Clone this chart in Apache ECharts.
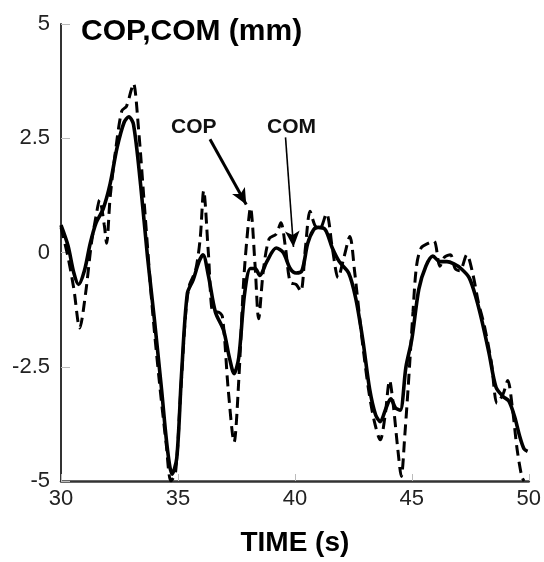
<!DOCTYPE html>
<html>
<head>
<meta charset="utf-8">
<script src="https://cdn.jsdelivr.net/npm/echarts@6/dist/echarts.min.js"></script>
<style>
  html, body { margin: 0; padding: 0; background: #fff; }
  #chart { width: 544px; height: 562px; }
</style>
</head>
<body>
<div id="chart"></div>
<script>
// time (s) and centre of mass (mm)
var comTime = [30.0, 30.3, 30.55, 30.75, 31.0, 31.25, 31.5, 31.8, 32.1, 32.4, 32.7, 32.9, 33.1, 33.4, 33.7,
    34.0, 34.3, 34.55, 34.75, 34.95, 35.15, 35.4, 35.65, 35.9, 36.07, 36.3, 36.6, 36.95, 37.2, 37.4,
    37.6, 37.85, 38.1, 38.3, 38.5, 38.8, 39.2, 39.5, 39.8, 40.05, 40.3, 40.55, 40.8, 41.0, 41.3,
    41.6, 41.9, 42.3, 42.6, 42.9, 43.2, 43.45, 43.65, 43.9, 44.1, 44.3, 44.5, 44.75, 45.0, 45.3,
    45.6, 45.9, 46.2, 46.5, 46.8, 47.1, 47.45, 47.75, 48.0, 48.3, 48.6, 48.9, 49.15, 49.4, 49.6,
    49.8, 49.95];
var comValue = [0.6, 0.15, -0.45, -0.7, -0.4, 0.2, 0.65, 0.95, 1.5, 2.3, 2.85, 2.97, 2.8, 1.5, -0.1,
    -1.5, -3.0, -4.3, -4.85, -4.5, -2.7, -0.9, -0.6, -0.2, -0.05, -0.5, -1.3, -1.7, -2.3, -2.65,
    -2.3, -0.9, -0.35, -0.35, -0.5, -0.2, 0.1, 0.0, -0.35, -0.45, -0.4, 0.2, 0.5, 0.55, 0.5,
    0.1, -0.2, -0.45, -1.0, -1.9, -3.0, -3.55, -3.7, -3.4, -3.2, -3.4, -3.45, -2.5, -1.9, -0.8,
    -0.3, -0.08, -0.2, -0.2, -0.25, -0.35, -0.55, -1.0, -1.5, -2.2, -2.95, -3.15, -3.25, -3.6, -4.0,
    -4.3, -4.35];

// time (s) and centre of pressure (mm)
var copTime = [30.0, 30.3, 30.55, 30.8, 31.05, 31.3, 31.5, 31.65, 31.85, 31.95, 32.1, 32.35, 32.6, 32.8, 33.0,
    33.1, 33.3, 33.6, 33.9, 34.2, 34.5, 34.7, 34.9, 35.1, 35.35, 35.5, 35.75, 35.95, 36.1, 36.3,
    36.5, 36.7, 36.9, 37.15, 37.4, 37.6, 37.8, 37.95, 38.1, 38.3, 38.45, 38.65, 38.9, 39.2, 39.4,
    39.6, 39.8, 40.05, 40.25, 40.45, 40.65, 40.85, 41.05, 41.35, 41.6, 41.85, 42.1, 42.35, 42.55, 42.85,
    43.15, 43.4, 43.65, 43.85, 44.05, 44.2, 44.4, 44.55, 44.7, 44.85, 45.05, 45.2, 45.4, 45.7, 45.95,
    46.2, 46.4, 46.65, 46.85, 47.05, 47.35, 47.6, 47.85, 48.1, 48.4, 48.65, 48.9, 49.1, 49.3, 49.5,
    49.7, 49.8];
var copValue = [0.55, -0.1, -0.8, -1.65, -0.9, 0.2, 0.8, 1.15, 0.6, 0.2, 1.2, 2.3, 3.1, 3.2, 3.55,
    3.7, 2.8, 0.8, -1.2, -2.8, -4.2, -5.0, -4.8, -3.2, -1.2, -0.7, -0.4, 0.3, 1.35, 0.0,
    -1.3, -1.3, -1.4, -3.0, -4.15, -2.8, -0.7, 0.3, 0.98, -0.3, -1.45, -0.4, 0.3, 0.4, 0.65,
    0.1, -0.65, -0.7, -0.85, 0.1, 0.9, 0.6, 0.5, 0.85, 0.1, -0.55, -0.1, 0.35, -0.4, -1.8,
    -3.0, -3.7, -4.1, -3.6, -2.8, -3.3, -4.3, -4.9, -4.0, -2.9, -1.3, -0.3, 0.1, 0.2, 0.25,
    -0.3, -0.1, -0.05, -0.35, -0.4, -0.05, -0.45, -1.1, -1.6, -2.4, -3.3, -3.1, -2.8, -3.4, -4.3,
    -4.9, -5.0];

// annotation arrows, in data units: [start, tip]
var copArrow = [[36.37, 2.48], [37.92, 1.05]];
var comArrow = [[39.6, 2.52], [39.94, 0.12]];

function pairs(xs, ys) {
    var out = [];
    for (var i = 0; i < xs.length; i++) {
        out.push([xs[i], ys[i]]);
    }
    return out;
}

function arrowLine(a, w) {
    return {
        silent: true,
        symbol: ['none', 'arrow'],
        symbolSize: [11, 16],
        label: { show: false },
        lineStyle: { color: '#000', width: w, type: 'solid' },
        data: [[{ coord: a[0] }, { coord: a[1] }]]
    };
}

var myChart = echarts.init(document.getElementById('chart'));
var option = {
    animation: false,
    backgroundColor: '#fff',
    title: {
        text: 'COP,COM (mm)',
        left: 76,
        top: 12,
        textStyle: {
            fontFamily: 'Liberation Sans, Arial, sans-serif',
            fontSize: 30,
            fontWeight: 'bold',
            color: '#000'
        }
    },
    grid: {
        left: 61,
        right: 12,
        top: 24,
        bottom: 70
    },
    xAxis: {
        type: 'value',
        min: 30,
        max: 50,
        interval: 5,
        name: 'TIME (s)',
        nameLocation: 'middle',
        nameGap: 48,
        nameTextStyle: {
            fontFamily: 'Liberation Sans, Arial, sans-serif',
            fontSize: 28,
            fontWeight: 'bold',
            color: '#000'
        },
        axisLine: { onZero: false, lineStyle: { color: '#333', width: 2.5 } },
        axisTick: { inside: true, length: 7, lineStyle: { color: '#bbb', width: 1 } },
        axisLabel: {
            margin: 7,
            fontFamily: 'Liberation Sans, Arial, sans-serif',
            fontSize: 22,
            color: '#222'
        },
        splitLine: { show: false }
    },
    yAxis: {
        type: 'value',
        min: -5,
        max: 5,
        interval: 2.5,
        axisLine: { show: true, onZero: false, lineStyle: { color: '#333', width: 2 } },
        axisTick: { show: true, inside: true, length: 9, lineStyle: { color: '#bbb', width: 1 } },
        axisLabel: {
            margin: 11,
            fontFamily: 'Liberation Sans, Arial, sans-serif',
            fontSize: 22,
            color: '#222'
        },
        splitLine: { show: false }
    },
    graphic: [
        {
            type: 'text',
            left: 171,
            top: 117,
            style: {
                text: 'COP',
                font: 'bold 21px "Liberation Sans", Arial, sans-serif',
                fill: '#111'
            }
        },
        {
            type: 'text',
            left: 267,
            top: 117,
            style: {
                text: 'COM',
                font: 'bold 21px "Liberation Sans", Arial, sans-serif',
                fill: '#111'
            }
        }
    ],
    series: [
        {
            name: 'COP',
            type: 'line',
            data: pairs(copTime, copValue),
            showSymbol: false,
            smooth: 0.3,
            lineStyle: { color: '#000', width: 3, type: [11, 6] },
            markLine: arrowLine(copArrow, 3),
            z: 2
        },
        {
            name: 'COM',
            type: 'line',
            data: pairs(comTime, comValue),
            showSymbol: false,
            smooth: 0.3,
            lineStyle: { color: '#000', width: 3.6 },
            markLine: arrowLine(comArrow, 1.6),
            z: 3
        }
    ]
};
myChart.setOption(option);
</script>
</body>
</html>
